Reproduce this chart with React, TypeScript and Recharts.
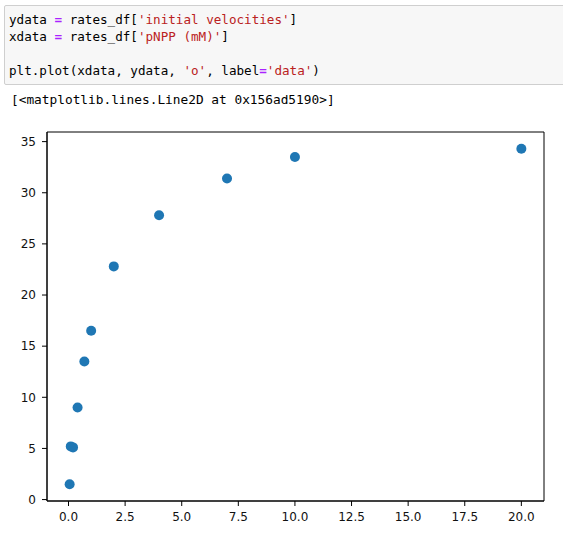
import React from 'react';
import {
  ScatterChart,
  Scatter,
  XAxis,
  YAxis,
  ReferenceArea,
} from 'recharts';

// 数据：pNPP 浓度 (mM) 与初速度
const pnppConc = [0.05, 0.1, 0.2, 0.4, 0.7, 1.0, 2.0, 4.0, 7.0, 10.0, 20.0];
const initialVelocities = [1.5, 5.2, 5.1, 9.0, 13.5, 16.5, 22.8, 27.8, 31.4, 33.5, 34.3];
const xTicks = [0, 2.5, 5, 7.5, 10, 12.5, 15, 17.5, 20];
const yTicks = [0, 5, 10, 15, 20, 25, 30, 35];

const X_DOMAIN: [number, number] = [-0.95, 21.0];
const Y_DOMAIN: [number, number] = [-0.14, 35.94];

const MONO = '"DejaVu Sans Mono", "Liberation Mono", monospace';
const EQ = '#aa22ff';
const STR = '#ba2121';

const Eq = () => <span style={{ color: EQ, fontWeight: 'bold' }}>=</span>;
const S = ({ children }: { children: React.ReactNode }) => (
  <span style={{ color: STR }}>{children}</span>
);

export default function App() {
  const data = pnppConc.map((x, i) => ({ x, y: initialVelocities[i] }));

  const tickStyle = { fontSize: 12, fill: '#111', fontFamily: '"DejaVu Sans", sans-serif' };

  return (
    <div style={{ position: 'absolute', left: 0, top: 0, width: 563, height: 540, background: '#fff' }}>
      {/* code cell */}
      <div style={{
        position: 'absolute',
        left: 4,
        top: 5,
        width: 570,
        height: 80,
        boxSizing: 'border-box',
        background: '#f7f7f7',
        border: '1px solid #cfcfcf',
        borderRadius: 2,
      }} />
      <pre style={{
        position: 'absolute',
        left: 9,
        top: 11,
        margin: 0,
        fontFamily: MONO,
        fontSize: 12.6,
        lineHeight: '17px',
        color: '#000',
      }}>
        ydata <Eq /> rates_df[<S>'initial velocities'</S>]{'\n'}
        xdata <Eq /> rates_df[<S>'pNPP (mM)'</S>]{'\n'}
        {'\n'}
        plt.plot(xdata, ydata, <S>'o'</S>, label<Eq /><S>'data'</S>)
      </pre>
      <pre style={{
        position: 'absolute',
        left: 11,
        top: 91,
        margin: 0,
        fontFamily: MONO,
        fontSize: 12.8,
        lineHeight: '17px',
        color: '#000',
      }}>
        {'[<matplotlib.lines.Line2D at 0x156ad5190>]'}
      </pre>

      <div style={{ position: 'absolute', left: 0, top: 0 }}>
        <ScatterChart
          width={563}
          height={540}
          margin={{ top: 132, right: 19, bottom: 9, left: 7 }}
        >
          <XAxis
            type="number"
            dataKey="x"
            domain={X_DOMAIN}
            ticks={xTicks}
            allowDataOverflow
            height={30}
            tickSize={5}
            tickMargin={6}
            tickFormatter={(v: number) => v.toFixed(1)}
            tick={tickStyle}
            stroke="#000"
            tickLine={{ stroke: '#000' }}
            axisLine={{ stroke: '#000' }}
          />
          <YAxis
            type="number"
            dataKey="y"
            domain={Y_DOMAIN}
            ticks={yTicks}
            allowDataOverflow
            width={40}
            tickSize={5}
            tickMargin={6}
            tick={tickStyle}
            stroke="#000"
            tickLine={{ stroke: '#000' }}
            axisLine={{ stroke: '#000' }}
          />
          <ReferenceArea
            x1={X_DOMAIN[0]}
            x2={X_DOMAIN[1]}
            y1={Y_DOMAIN[0]}
            y2={Y_DOMAIN[1]}
            fill="none"
            stroke="#000"
            strokeWidth={1}
            fillOpacity={0}
          />
          <Scatter
            data={data}
            isAnimationActive={false}
            shape={(props: any) => (
              <circle cx={props.cx} cy={props.cy} r={5} fill="#1f77b4" />
            )}
          />
        </ScatterChart>
      </div>
    </div>
  );
}
